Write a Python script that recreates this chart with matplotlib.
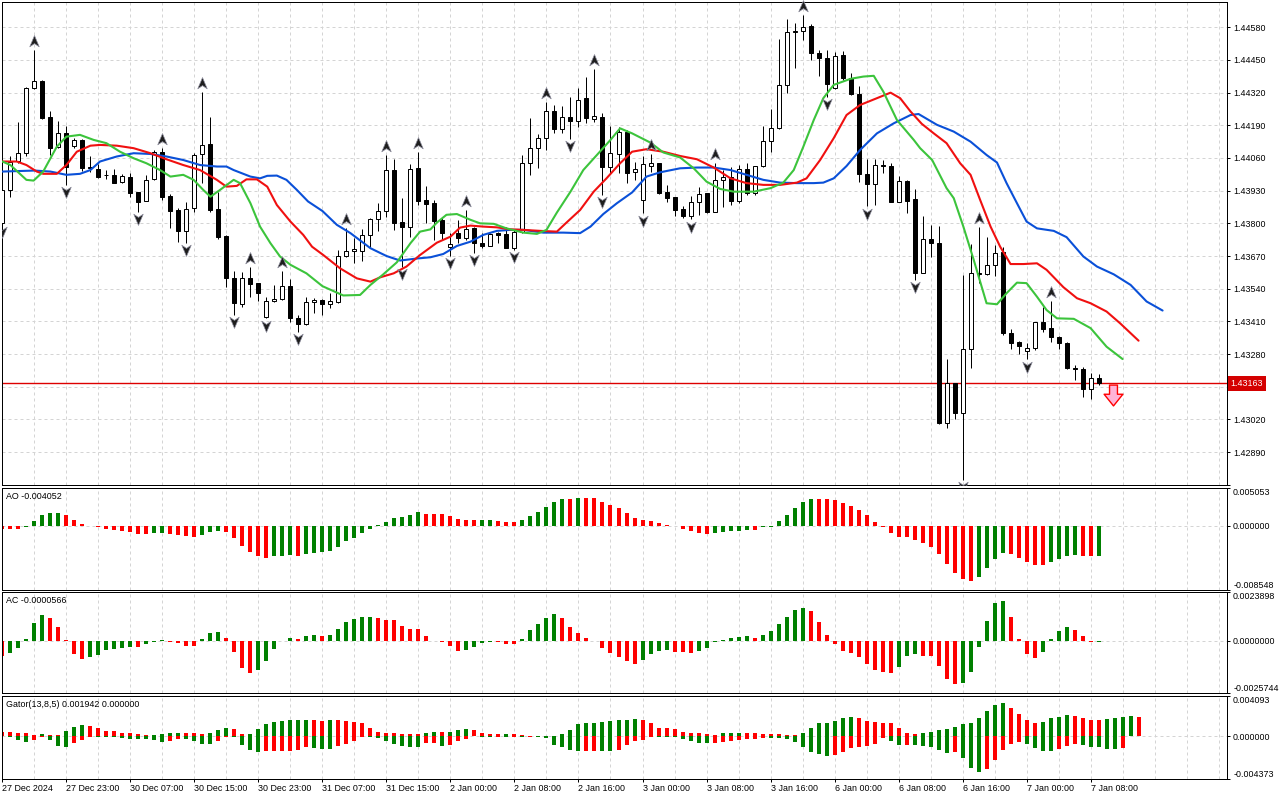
import matplotlib
matplotlib.use("Agg")
import matplotlib.pyplot as plt
from matplotlib.path import Path
from matplotlib.transforms import offset_copy
import numpy as np

plt.rcParams['font.family'] = ['Liberation Sans', 'DejaVu Sans']
plt.rcParams['font.size'] = 6.4

# ---- price data, hourly bars, in points (1e-5) ----
PT = 1e-5
opens = [143800, 143933, 144050, 144079, 144338, 144367, 144222, 144103, 144158, 144109,
         144132, 144026, 144015, 143994, 143993, 143963, 143986, 143924, 143890, 143975,
         144085, 143909, 143853, 143771, 143860, 144075, 144116, 143856, 143751, 143581,
         143479, 143584, 143562, 143426, 143489, 143498, 143551, 143422, 143398, 143486,
         143495, 143478, 143486, 143672, 143691, 143690, 143753, 143816, 143851, 144011,
         143807, 143784, 144019, 143893, 143880, 143814, 143707, 143761, 143743, 143780,
         143721, 143711, 143761, 143758, 143701, 143765, 144042, 144099, 144139, 144245,
         144174, 144222, 144208, 144298, 144215, 144222, 144026, 144076, 144162, 144003,
         143893, 144028, 144039, 143924, 143904, 143856, 143829, 143884, 143920, 143847,
         143973, 143986, 143889, 144015, 143922, 144028, 144129, 144178, 144349, 144560,
         144566, 144586, 144479, 144457, 144338, 144470, 144380, 144314, 143997, 143956,
         144032, 144028, 143886, 143969, 143896, 143604, 143737, 143721, 143005, 143164,
         143044, 143299, 143601, 143599, 143635, 143685, 143363, 143326, 143292, 143303,
         143406, 143383, 143349, 143323, 143225, 143219, 143140, 143186]
highs = [143940, 144066, 144205, 144342, 144490, 144371, 144247, 144208, 144188, 144141,
         144135, 144068, 144035, 144012, 144015, 143995, 143999, 143926, 143993, 144092,
         144101, 143917, 143860, 143886, 144079, 144324, 144222, 143926, 143754, 143612,
         143608, 143628, 143564, 143508, 143555, 143612, 143578, 143436, 143508, 143502,
         143498, 143522, 143694, 143783, 143741, 143776, 143820, 143880, 144072, 144055,
         143900, 144035, 144085, 143949, 143893, 143820, 143761, 143814, 143853, 143787,
         143763, 143763, 143767, 143787, 143774, 144070, 144218, 144156, 144281, 144271,
         144265, 144304, 144338, 144384, 144414, 144238, 144189, 144185, 144172, 144046,
         144066, 144076, 144042, 143953, 143906, 143867, 143909, 143944, 143922, 144039,
         144012, 144026, 144032, 144042, 144030, 144188, 144254, 144532, 144612, 144596,
         144629, 144592, 144490, 144490, 144483, 144486, 144400, 144347, 144055, 144055,
         144052, 144039, 143989, 143973, 143936, 143829, 143794, 143790, 143259, 143166,
         143595, 143718, 143784, 143745, 143714, 143707, 143379, 143333, 143323, 143409,
         143469, 143489, 143352, 143326, 143237, 143230, 143206, 143201]
lows = [143794, 143906, 144039, 144066, 144334, 144214, 144072, 144099, 143953, 144099,
        144010, 144006, 143979, 143975, 143960, 143962, 143906, 143847, 143889, 143973,
        143893, 143783, 143727, 143721, 143844, 143960, 143847, 143737, 143546, 143436,
        143469, 143508, 143489, 143422, 143487, 143495, 143409, 143369, 143396, 143442,
        143436, 143462, 143484, 143668, 143641, 143652, 143707, 143771, 143827, 143774,
        143628, 143747, 143873, 143800, 143734, 143734, 143670, 143721, 143734, 143681,
        143701, 143710, 143721, 143701, 143694, 143763, 143993, 144022, 144090, 144158,
        144158, 144135, 144185, 144198, 144202, 143913, 144002, 143999, 143960, 143973,
        143840, 144006, 143917, 143886, 143829, 143820, 143816, 143834, 143840, 143844,
        143864, 143873, 143880, 143913, 143913, 144026, 144082, 144174, 144320, 144420,
        144530, 144450, 144387, 144304, 144334, 144371, 144311, 143966, 143867, 143873,
        144002, 143883, 143883, 143843, 143575, 143601, 143668, 143002, 142985, 143020,
        142779, 143223, 143562, 143595, 143591, 143356, 143299, 143279, 143259, 143296,
        143369, 143329, 143299, 143219, 143177, 143108, 143100, 143157]
closes = [143933, 144046, 144079, 144338, 144367, 144218, 144099, 144158, 144026, 144132,
          144019, 144022, 143986, 143991, 143962, 143989, 143922, 143886, 143973, 144085,
          143906, 143851, 143771, 143856, 144072, 144111, 143853, 143747, 143581, 143482,
          143581, 143558, 143524, 143491, 143498, 143551, 143422, 143398, 143485, 143494,
          143478, 143489, 143672, 143690, 143697, 143753, 143818, 143851, 144011, 143803,
          143784, 144015, 143889, 143877, 143811, 143763, 143717, 143743, 143779, 143721,
          143710, 143758, 143755, 143703, 143765, 144042, 144099, 144139, 144245, 144174,
          144222, 144208, 144291, 144218, 144227, 144023, 144079, 144165, 143999, 144015,
          144035, 144039, 143922, 143902, 143853, 143829, 143884, 143916, 143847, 143973,
          143983, 143890, 144015, 143922, 144028, 144129, 144178, 144349, 144560, 144566,
          144580, 144477, 144457, 144353, 144466, 144377, 144314, 143995, 143956, 144032,
          144028, 143886, 143969, 143890, 143604, 143737, 143721, 143005, 143164, 143044,
          143299, 143601, 143599, 143635, 143681, 143363, 143323, 143312, 143303, 143406,
          143380, 143349, 143323, 143223, 143222, 143140, 143186, 143163]

# Alligator lines (bar position, points)
jaw_x = [0, 4, 6, 8, 9.7, 11, 12.2, 14.3, 16.4, 18.5, 20.5, 22.6, 24.7, 26.8, 28, 28.9, 31, 32.2,
         33.1, 34.3, 35.5, 36.8, 38.2, 40, 41.8, 43.5, 46, 48, 49.7, 51.8, 53.5, 55.1, 56.8, 58.5,
         60.1, 61.8, 63.5, 65.1, 67.6, 70.1, 72.2, 73.5, 75.1, 76.8, 78.7, 80.5, 82.2, 84.7, 86.8,
         88.9, 91, 93, 95.1, 97.2, 99.3, 101.4, 102.6, 103.9, 105.5, 107.2, 109.3, 111.4, 113.5,
         114.5, 116.8, 118.9, 121, 123, 124.3, 125.5, 126.8, 128, 129.3, 131.4, 133, 135.1, 136.8,
         138.9, 141, 143, 145]
jaw_y = [144006, 144010, 144006, 143993, 143997, 144012, 144046, 144066, 144079, 144076, 144066,
         144052, 144032, 144026, 144026, 144012, 143986, 143979, 143989, 143990, 143973, 143933,
         143887, 143849, 143794, 143761, 143701, 143670, 143652, 143660, 143665, 143678, 143710,
         143727, 143754, 143770, 143774, 143774, 143763, 143763, 143761, 143787, 143837, 143880,
         143923, 143986, 144003, 144019, 144022, 144022, 144012, 143993, 143973, 143962, 143960,
         143960, 143962, 143979, 144028, 144092, 144158, 144198, 144231, 144235, 144192, 144165,
         144125, 144072, 144042, 143960, 143880, 143807, 143780, 143770, 143745, 143668, 143628,
         143597, 143555, 143489, 143453]
teeth_x = [0, 1.8, 3, 4.3, 5.1, 6.8, 8, 9.3, 11, 12.2, 14.3, 16.4, 18.5, 20.5, 22.6, 24.7, 26.8,
           28, 29.3, 30.5, 31.8, 33.1, 34.3, 36, 37.6, 38.7, 40.1, 42.2, 44.3, 46, 47.2, 48.9, 50.5,
           52.2, 54.3, 56, 57.2, 58.5, 60.1, 61.8, 63.5, 65.1, 67.2, 69.3, 70.5, 72.2, 73.9, 75.5,
           77.2, 78.7, 80.5, 82.6, 84.7, 86.8, 88.9, 91, 93, 95.1, 97.2, 99.3, 100.5, 102.2, 103.9,
           105.5, 107.2, 109.3, 111, 112.2, 113.5, 114.9, 116.4, 118, 119.7, 121, 122.2, 123.5,
           124.7, 126, 127.6, 129.3, 130.5, 132.6, 134.3, 136, 138, 139.7, 142]
teeth_y = [144046, 144046, 144032, 144006, 143997, 143997, 144032, 144085, 144109, 144112, 144109,
           144099, 144079, 144055, 144032, 144012, 143973, 143946, 143949, 143975, 143975, 143946,
           143873, 143807, 143754, 143707, 143674, 143621, 143581, 143568, 143585, 143601, 143628,
           143674, 143723, 143747, 143783, 143791, 143787, 143784, 143776, 143774, 143770, 143767,
           143803, 143853, 143926, 143979, 144039, 144085, 144095, 144085, 144068, 144055, 144022,
           143979, 143960, 143953, 143953, 143962, 143979, 144052, 144139, 144231, 144271, 144298,
           144320, 144298, 144245, 144196, 144158, 144119, 144039, 143993, 143893, 143787, 143707,
           143638, 143638, 143641, 143615, 143546, 143502, 143482, 143449, 143402, 143333]
lips_x = [0, 1, 3, 3.9, 5.1, 6.8, 8, 9.7, 11.4, 13, 14.7, 16.4, 18, 19.7, 21, 22.6, 23.9, 25.1, 26,
          27.2, 28.9, 29.7, 31, 32.2, 33.5, 34.7, 36, 38, 40, 42.6, 44.7, 46, 47.6, 49.3, 51, 52.2,
          53.5, 54.3, 55.5, 56.8, 58.5, 59.7, 61.4, 63, 65.1, 66.8, 68, 69.3, 71, 72.6, 74.3, 76,
          77.2, 78.7, 81, 82.6, 84.7, 86.4, 88, 89.7, 91.4, 93.9, 96, 97.6, 98.9, 100.1, 101.4,
          102.6, 103.9, 106, 107.6, 108.9, 110.1, 111.8, 113.9, 114.7, 116.2, 118, 118.9, 120.1,
          121.4, 123, 124.3, 125.5, 126.8, 128, 129.3, 130.5, 131.8, 133.9, 136, 138, 140]
lips_y = [144046, 144032, 143973, 143970, 144006, 144105, 144145, 144152, 144132, 144119, 144085,
          144059, 144039, 144012, 143986, 143993, 143973, 143933, 143906, 143933, 143973, 143960,
          143880, 143787, 143721, 143668, 143635, 143601, 143550, 143513, 143515, 143555, 143597,
          143645, 143721, 143767, 143776, 143803, 143834, 143837, 143814, 143800, 143798, 143780,
          143763, 143758, 143774, 143843, 143926, 144012, 144072, 144132, 144178, 144158, 144121,
          144082, 144062, 144019, 143966, 143937, 143926, 143926, 143940, 143962, 144012, 144105,
          144211, 144298, 144351, 144375, 144384, 144387, 144324, 144211, 144132, 144099, 144052,
          143940, 143900, 143787, 143654, 143482, 143478, 143522, 143564, 143562, 143508, 143455,
          143422, 143420, 143383, 143309, 143260]

# fractal bars
frac_up = [4, 20, 25, 31, 35, 43, 48, 52, 58, 68, 74, 81, 89, 100, 122, 131]
frac_down = [0, 8, 17, 23, 29, 33, 37, 50, 56, 59, 64, 71, 75, 80, 86, 103, 108, 114, 120, 128]

signal_bar = 138.8
signal_price = 1.43115

# ---- oscillators, in units of 1e-4; colour per bar (g/r) ----
ao = [-3.6, -4.4, -4.5, -1.3, 6.7, 14.7, 17.3, 17.4, 14.7, 8.0,
      2.7, 0.4, -1.8, -3.6, -4.9, -7.1, -7.5, -10.2, -10.3, -9.8,
      -8.9, -10.2, -11.5, -12.9, -14.2, -11.5, -7.5, -6.2, -7.5, -15.5,
      -26.6, -34.2, -40.0, -42.2, -40.8, -39.5, -38.6, -39.5, -37.7, -36.4,
      -34.6, -32.9, -27.5, -20.4, -16.0, -8.9, -3.6, 0.9, 5.3, 10.7,
      12.0, 14.2, 18.6, 16.0, 15.9, 15.8, 13.3, 9.3, 8.0, 7.9,
      8.0, 8.1, 6.7, 5.3, 5.2, 8.0, 13.3, 18.6, 25.3, 32.0,
      36.0, 35.9, 37.3, 37.2, 37.1, 32.0, 28.0, 24.0, 17.3, 10.7,
      8.0, 6.7, 4.0, 1.3, -0.4, -3.6, -6.7, -8.9, -10.7, -8.9,
      -7.5, -7.4, -6.2, -4.9, -5.3, -1.8, -0.9, 6.7, 14.7, 24.0,
      32.0, 36.4, 36.2, 36.0, 34.6, 30.6, 26.6, 21.3, 14.7, 5.3,
      -1.8, -9.8, -14.2, -14.5, -18.2, -23.1, -27.5, -36.9, -50.2, -62.2,
      -70.2, -74.1, -68.8, -56.8, -43.5, -35.5, -36.9, -42.2, -47.5, -51.5,
      -51.8, -47.5, -43.5, -39.5, -39.3, -39.8, -40.8, -40.52]
ao_col = ("rrrgggggrr" "rrrrrrrrrg" "grrrrgggrr" "rrrrgggrgg" "gggggggggg" "gggrrrrrrr"
          "ggrrrggggg" "grgrrrrrrr" "rrrrrrrrrg" "ggggrggggg" "ggrrrrrrrr" "rrrrrrrrrr"
          "rrggggrrrr" "rggggrrg")
ac = [-7.4, -5.9, -3.4, 1.0, 8.8, 12.6, 11.1, 6.7, 0.3, -6.4,
      -8.8, -7.9, -6.9, -4.4, -3.9, -3.4, -2.9, -3.0, -1.8, -0.5,
      0.3, -0.5, -1.0, -2.5, -2.6, 0.8, 3.9, 4.4, 1.3, -5.4,
      -13.3, -15.7, -14.3, -9.8, -3.9, -0.2, 1.3, 0.8, 2.5, 2.9,
      2.5, 3.0, 5.9, 9.3, 10.8, 11.6, 11.7, 11.1, 10.2, 10.1,
      7.2, 5.7, 5.6, 2.3, -0.3, -0.5, -2.5, -4.9, -4.4, -2.9,
      -1.0, -0.5, -0.6, -1.5, -1.6, 1.0, 5.4, 8.4, 11.3, 13.3,
      11.3, 6.9, 3.9, 1.5, -0.3, -3.6, -5.9, -7.9, -9.8, -11.3,
      -9.3, -6.4, -4.9, -4.4, -5.4, -5.5, -5.9, -4.9, -3.4, -0.8,
      0.5, 1.5, 2.0, 2.5, 1.5, 3.0, 4.9, 8.4, 11.8, 15.2,
      16.2, 14.7, 9.3, 3.0, -1.5, -4.9, -5.9, -7.9, -11.3, -14.3,
      -15.2, -15.7, -12.8, -7.4, -6.4, -7.4, -7.5, -12.3, -18.7, -21.1,
      -20.6, -15.2, -2.9, 9.7, 18.5, 19.5, 11.6, 0.8, -6.4, -8.4,
      -5.4, 0.8, 4.8, 6.7, 5.2, 2.3, -0.8, -0.566]
ac_col = ("rgggggrrrr" "rggggggrgg" "grrrrgggrr" "rrgggggrgg" "rggggggrrr" "rrrrrrrrgg"
          "ggrrrggggg" "rrrrrrrrrr" "ggggrrrggg" "ggggrggggg" "grrrrrrrrr" "rrgggrrrrr"
          "ggggggrrrr" "ggggrrrg")
gator_up = [4.4, 4.3, 3.7, 2.7, 1.4, 2.0, 1.4, 1.0, 5.1, 9.1,
            11.2, 10.5, 8.1, 5.1, 5.0, 3.7, 2.7, 1.7, 0.7, 1.4,
            1.7, 2.7, 3.7, 3.0, 2.7, 1.7, 3.7, 5.8, 7.8, 6.8,
            1.7, 1.8, 6.8, 11.9, 14.9, 15.9, 16.0, 16.1, 16.9, 16.8,
            15.9, 16.9, 16.8, 15.9, 14.9, 12.9, 7.8, 4.7, 3.7, 2.7,
            2.0, 1.9, 1.8, 2.7, 4.7, 4.6, 4.7, 5.8, 6.8, 5.8,
            3.7, 2.0, 1.9, 2.0, 1.9, 1.0, 0.2, 0.3, 0.1, 0.3,
            2.0, 5.8, 11.9, 12.9, 13.9, 14.9, 15.9, 16.0, 16.9, 17.0,
            16.8, 12.9, 8.8, 7.8, 6.8, 4.7, 3.7, 2.7, 2.0, 1.4,
            2.7, 2.8, 3.7, 3.0, 2.7, 2.6, 2.0, 1.9, 1.4, 1.0,
            3.7, 8.8, 12.9, 13.0, 15.9, 19.0, 19.1, 18.0, 15.9, 14.9,
            13.9, 12.9, 8.8, 3.7, 1.7, 3.7, 4.7, 5.8, 6.8, 9.8,
            11.9, 13.9, 19.0, 26.1, 32.2, 34.2, 29.1, 23.0, 16.9, 13.9,
            14.9, 18.0, 20.0, 22.0, 21.0, 19.0, 16.9, 16.8, 17.0, 19.0,
            20.0, 20.1, 19.42]
gator_up_col = ("rrrrrgrrgg" "grrrrrrrrg" "gggrrrgggr" "rggggggggr" "rgrrrrrrrr" "rrrggrgggr"
                "rrrgrrrgrg" "gggggggggg" "rrrrrrrrrr" "gggrrrrrrr" "gggggggrrr" "rrrrrggggg"
                "ggggggrrrr" "ggggrrrrgg" "ggr")
gator_lo = [-0.2, -1.0, -4.4, -6.1, -4.4, -1.0, -4.4, -10.2, -11.2, -7.1,
            -4.1, -1.0, -1.1, -1.2, -1.3, -2.0, -3.0, -3.1, -3.2, -4.1,
            -6.1, -5.1, -3.0, -3.1, -5.1, -8.1, -8.2, -5.1, -1.0, -1.1,
            -9.1, -14.2, -16.3, -15.2, -15.1, -15.0, -14.9, -14.2, -11.2, -12.2,
            -13.2, -13.3, -10.2, -8.1, -5.1, -1.0, -1.1, -2.0, -5.1, -8.1,
            -10.2, -11.2, -11.3, -7.1, -7.0, -10.2, -9.1, -5.1, -3.0, -0.3,
            -1.0, -1.1, -1.0, -1.1, -1.0, -1.1, -1.0, -1.1, -2.0, -9.1,
            -11.2, -14.2, -15.2, -15.1, -15.0, -15.2, -15.3, -14.2, -9.1, -5.1,
            -4.1, -1.0, -1.1, -1.2, -1.3, -3.0, -5.1, -7.1, -7.2, -7.1,
            -6.1, -5.1, -4.1, -3.0, -2.9, -2.0, -2.1, -2.2, -3.0, -6.1,
            -11.2, -16.3, -18.3, -20.3, -19.3, -16.3, -12.2, -11.2, -10.2, -8.1,
            -2.0, -5.1, -9.1, -9.0, -9.2, -10.2, -11.2, -14.2, -17.3, -16.3,
            -22.4, -32.5, -36.6, -33.5, -24.4, -14.2, -8.1, -6.1, -8.1, -12.2,
            -15.2, -15.3, -13.2, -10.2, -8.1, -9.1, -11.2, -11.3, -13.2, -13.3,
            -12.2]
gator_lo_col = ("ggggrrgggr" "rrgggggggg" "grrggggrrg" "gggrrrrrrg" "ggrrrrgggg" "gggrrgrrrr"
                "ggrgrgrggg" "gggrrggrrr" "rrgggggggr" "rrrrrrgggg" "ggggrrrrrr" "rggrgggggr"
                "gggrrrrrgg" "ggrrrggggg" "r")

ao_range = (-0.008548, 0.005053)
ac_range = (-0.0025744, 0.0023898)
gator_range = (-0.004373, 0.004093)

price_ticks = [1.42760 + 0.0013 * k for k in range(15)]
time_labels = ['27 Dec 2024', '27 Dec 23:00', '30 Dec 07:00', '30 Dec 15:00', '30 Dec 23:00',
               '31 Dec 07:00', '31 Dec 15:00', '2 Jan 00:00', '2 Jan 08:00', '2 Jan 16:00',
               '3 Jan 00:00', '3 Jan 08:00', '3 Jan 16:00', '6 Jan 00:00', '6 Jan 08:00',
               '6 Jan 16:00', '7 Jan 00:00', '7 Jan 08:00']

# ---- figure ----
W, H = 1280, 800
fig = plt.figure(figsize=(12.8, 8), dpi=100)
fig.patch.set_facecolor('white')


def box(x0, y0, x1, y1):
    return [x0 / W, 1 - y1 / H, (x1 - x0) / W, (y1 - y0) / H]


ax = fig.add_axes(box(2, 2, 1227, 485))
ax_ao = fig.add_axes(box(2, 488, 1227, 590))
ax_ac = fig.add_axes(box(2, 592, 1227, 693))
ax_gt = fig.add_axes(box(2, 696, 1227, 779))
panels = [ax, ax_ao, ax_ac, ax_gt]

GRID = '#d4d4d4'
GREEN, RED = '#008000', '#ff0000'
LW = 0.72
xmin, xmax = -0.05, 153.05

for a in panels:
    a.set_xlim(xmin, xmax)
    for s in a.spines.values():
        s.set_linewidth(LW)
        s.set_color('black')
    for gx in range(0, 153, 4):
        a.axvline(gx, color=GRID, lw=LW, ls=(0, (3, 3)), zorder=0)
    a.tick_params(axis='x', bottom=False, labelbottom=False)
    a.yaxis.tick_right()
    a.tick_params(axis='y', direction='out', length=2.2, width=LW, pad=2.2,
                  labelsize=6.4, colors='black')

# ---- main price panel ----
x = np.arange(len(opens))
o = np.array(opens) * PT
h = np.array(highs) * PT
l = np.array(lows) * PT
c = np.array(closes) * PT
last = c[-1]

ax.set_ylim(1.427588, 1.446807)
ax.set_yticks(price_ticks)
# the lowest tick sits on the frame edge and the one under the price tag is covered in the reference
ax.set_yticklabels(['' if (k == 0 or abs(p - last) < 0.0004) else f'{p:.5f}'
                    for k, p in enumerate(price_ticks)])
for p in price_ticks:
    ax.axhline(p, color=GRID, lw=LW, ls=(0, (3, 3)), zorder=0)

ax.hlines(last, xmin, xmax, colors='#dd0000', linewidths=1.0, zorder=1.5)

ax.vlines(x, l, h, color='black', lw=LW, zorder=2)
body_col = ['white' if cc >= oo else 'black' for oo, cc in zip(o, c)]
ax.bar(x, c - o, bottom=o, width=0.5, color=body_col, edgecolor='black', linewidth=LW, zorder=3)

ax.plot(jaw_x, np.array(jaw_y) * PT, color='#0a50d8', lw=1.5, zorder=4, solid_capstyle='round')
ax.plot(teeth_x, np.array(teeth_y) * PT, color='#f01010', lw=1.5, zorder=4, solid_capstyle='round')
ax.plot(lips_x, np.array(lips_y) * PT, color='#3cc43c', lw=1.5, zorder=4, solid_capstyle='round')

up_arrow = Path([(0, 1), (0.8, -0.9), (0, -0.35), (-0.8, -0.9), (0, 1)],
                [Path.MOVETO, Path.LINETO, Path.LINETO, Path.LINETO, Path.CLOSEPOLY])
down_arrow = Path([(0, -1), (0.8, 0.9), (0, 0.35), (-0.8, 0.9), (0, -1)],
                  [Path.MOVETO, Path.LINETO, Path.LINETO, Path.LINETO, Path.CLOSEPOLY])
ax.plot(frac_up, h[frac_up], ls='none', marker=up_arrow, ms=8.5, mfc='#1e1e1e', mec='#8a8a9a',
        mew=0.5, zorder=5, clip_on=False,
        transform=offset_copy(ax.transData, fig=fig, y=6.5, units='points'))
ax.plot(frac_down, l[frac_down], ls='none', marker=down_arrow, ms=8.5, mfc='#1e1e1e', mec='#8a8a9a',
        mew=0.5, zorder=5, clip_on=True,
        transform=offset_copy(ax.transData, fig=fig, y=-5.2, units='points'))

sell_arrow = Path([(-0.38, 1), (0.38, 1), (0.38, 0.12), (0.9, 0.12), (0, -1), (-0.9, 0.12),
                   (-0.38, 0.12), (-0.38, 1)],
                  [Path.MOVETO] + [Path.LINETO] * 6 + [Path.CLOSEPOLY])
ax.plot([signal_bar], [signal_price], ls='none', marker=sell_arrow, ms=15, mfc='#ffb4d8',
        mec='#ff0000', mew=1.0, zorder=5)

ax.annotate(f'{last:.5f}', xy=(1, last), xycoords=('axes fraction', 'data'),
            xytext=(2.6, 0), textcoords='offset points', ha='left', va='center',
            color='white', fontsize=6.4, annotation_clip=False, zorder=10,
            bbox=dict(boxstyle='square,pad=0.35', fc='#d40000', ec='none'))


# ---- oscillator panels ----
def osc_panel(a, rng, fmt, name):
    a.set_ylim(*rng)
    a.axhline(0, color=GRID, lw=LW, ls=(0, (3, 3)), zorder=0)
    a.set_yticks([rng[0], 0, rng[1]])
    a.set_yticklabels([fmt.format(rng[0]), fmt.format(0), fmt.format(rng[1])])
    labs = a.get_yticklabels()
    labs[0].set_va('bottom')
    labs[2].set_va('top')
    a.annotate(name, xy=(0, 1), xycoords='axes fraction', xytext=(2.9, -6.4),
               textcoords='offset points', ha='left', va='center', fontsize=6.4)


def hist(a, vals, cols):
    v = np.array(vals) * 1e-4
    a.bar(np.arange(len(v)), v, width=0.5, color=[GREEN if k == 'g' else RED for k in cols],
          linewidth=0, zorder=2)


osc_panel(ax_ao, ao_range, '{:.6f}', f'AO {ao[-1] * 1e-4:.6f}')
hist(ax_ao, ao, ao_col)
osc_panel(ax_ac, ac_range, '{:.7f}', f'AC {ac[-1] * 1e-4:.7f}')
hist(ax_ac, ac, ac_col)
osc_panel(ax_gt, gator_range, '{:.6f}', f'Gator(13,8,5) {gator_up[-1] * 1e-4:.6f} {0:.6f}')
hist(ax_gt, gator_up, gator_up_col)
hist(ax_gt, gator_lo, gator_lo_col)

ax_gt.set_xticks(range(0, 8 * len(time_labels), 8))
ax_gt.set_xticklabels(time_labels)
ax_gt.tick_params(axis='x', bottom=True, labelbottom=True, direction='out', length=2.2,
                  width=LW, pad=1.6, labelsize=6.4)
for lab in ax_gt.get_xticklabels():
    lab.set_ha('left')

fig.savefig('out.png', dpi=100, facecolor='white')
